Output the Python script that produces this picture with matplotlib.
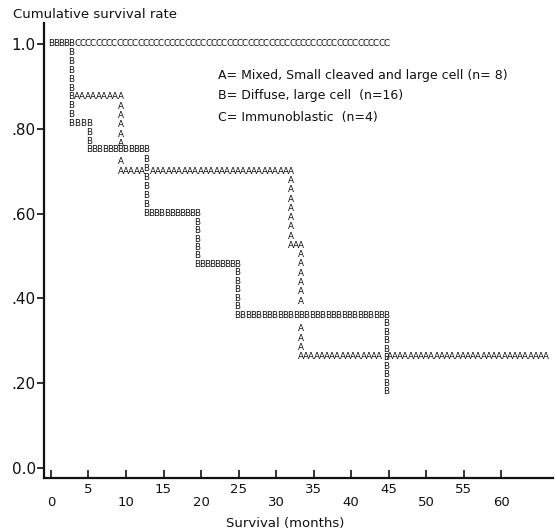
import numpy as np
import matplotlib
matplotlib.use("Agg")
import matplotlib.pyplot as plt
from matplotlib.transforms import offset_copy

# Kaplan-Meier step data (months, cumulative survival)
a_times = [0, 2.7, 9.3, 32.0, 33.3, 66.0]
a_surv = [1.0, 0.875, 0.70, 0.525, 0.2625, 0.2625]
b_times = [0, 2.7, 5.1, 12.7, 19.5, 24.8, 44.7]
b_surv = [1.0, 0.8125, 0.75, 0.60, 0.48, 0.36, 0.18]
c_times = [0, 44.7]
c_surv = [1.0, 1.0]

legend_lines = ["A= Mixed, Small cleaved and large cell (n= 8)",
                "B= Diffuse, large cell  (n=16)",
                "C= Immunoblastic  (n=4)"]
ytick_vals = [0.0, 0.2, 0.4, 0.6, 0.8, 1.0]
ytick_labels = ["0.0", ".20", ".40", ".60", ".80", "1.0"]
xtick_vals = [0, 5, 10, 15, 20, 25, 30, 35, 40, 45, 50, 55, 60]

W, H = 557, 532
fig = plt.figure(figsize=(W / 100, H / 100), dpi=100)
ax = fig.add_axes([44 / W, (H - 478) / H, (553 - 44) / W, (478 - 23) / H])
ax.set_xlim(-0.93, 66.9)
ax.set_ylim(-0.0236, 1.0495)

dm = 0.7     # horizontal character pitch (months)
dv = 0.021   # vertical character pitch (survival)


def step_points(times, surv):
    pts = []
    for i in range(len(times) - 1):
        t0, t1 = times[i], times[i + 1]
        s0, s1 = surv[i], surv[i + 1]
        n = max(1, int(round((t1 - t0) / dm)))
        for x in np.linspace(t0, t1, n + 1):
            pts.append((x, s0))
        if s1 != s0:
            n = max(1, int(round(abs(s1 - s0) / dv)))
            for y in np.linspace(s0, s1, n + 1)[1:]:
                pts.append((t1, y))
    return pts


placed = []
for letter, t, s in [("B", b_times, b_surv), ("A", a_times, a_surv), ("C", c_times, c_surv)]:
    for (x, y) in step_points(t, s):
        clash = any(abs(x - px) < 0.6 * dm and abs(y - py) < 0.6 * dv for px, py, _ in placed)
        if not clash:
            placed.append((x, y, letter))

for x, y, letter in placed:
    ax.text(x, y, letter, ha="center", va="center", fontsize=6.3, color="#111111")

for sp in ["top", "right"]:
    ax.spines[sp].set_visible(False)
for sp in ["left", "bottom"]:
    ax.spines[sp].set_linewidth(1.6)
    ax.spines[sp].set_color("#111111")

ax.set_yticks(ytick_vals, ytick_labels)
ax.tick_params(axis="y", direction="out", length=5, width=1.2, labelsize=11, pad=1,
               colors="#111111")
ax.set_xticks(xtick_vals)
ax.tick_params(axis="x", direction="in", length=6, width=1.2, labelbottom=False,
               colors="#111111")

# staggered x tick labels (odd multiples of 5 sit higher, as in the original)
high = offset_copy(ax.get_xaxis_transform(), fig=fig, y=-8, units="points")
low = offset_copy(ax.get_xaxis_transform(), fig=fig, y=-17.5, units="points")
for v in xtick_vals:
    tr = high if (v // 5) % 2 == 1 else low
    ax.text(v, 0, str(v), transform=tr, ha="center", va="center",
            fontsize=9.5, color="#111111", clip_on=False)

fig.text(285 / W, 1 - 523 / H, "Survival (months)", ha="center", va="center",
         fontsize=9.5, color="#111111")
fig.text(13 / W, 1 - 14 / H, "Cumulative survival rate", ha="left", va="center",
         fontsize=9.5, color="#111111")
for i, line in enumerate(legend_lines):
    fig.text(218 / W, 1 - (75 + 21 * i) / H, line, ha="left", va="center",
             fontsize=9, color="#111111")

fig.savefig("out.png", dpi=100)
